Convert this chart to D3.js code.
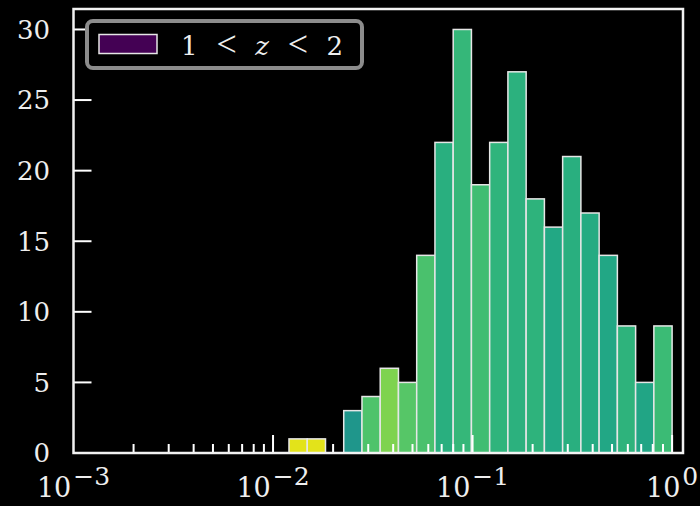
<!DOCTYPE html>
<html>
<head>
<meta charset="utf-8">
<script src="https://d3js.org/d3.v7.min.js"></script>
<style>
  body { margin: 0; background: #000; }
  svg { display: block; background: #000; }
  text { font-family: 'DejaVu Serif', serif; fill: #eee; }
</style>
</head>
<body>
<svg width="700" height="506"></svg>
<script>
// histogram bin edges (log spaced)
const binEdges = [0.01202, 0.01484, 0.01832, 0.02261, 0.02791, 0.03445, 0.04252, 0.05248,
  0.06478, 0.07996, 0.09869, 0.12182, 0.15036, 0.18559, 0.22909, 0.28277, 0.34903,
  0.43081, 0.53176, 0.65637, 0.81018, 1.0];
// counts per bin
const counts = [1, 1, 0, 3, 4, 6, 5, 14, 22, 30, 19, 22, 27, 18, 16, 21, 17, 14, 9, 5, 9];
// bar face colours (viridis values)
const barColors = ["#e3e31a", "#e3e31a", "#000", "#1f968b", "#4ec36b", "#7ed34f", "#56c667",
  "#4ac16d", "#29af7f", "#35b779", "#40bd72", "#2fb47c", "#2cb17e", "#2eb37c", "#22a884",
  "#29af7f", "#25ab82", "#22a785", "#2eb37c", "#21a585", "#3bbb75"];
const yTicks = [0, 5, 10, 15, 20, 25, 30];
const xMajor = [-3, -2, -1, 0];
const legendLabel = "1 < z < 2";

const svg = d3.select("svg");
const margin = {top: 9, right: 17, bottom: 53, left: 73.5};
const W = 700, H = 506;

const x = d3.scaleLog().domain([1e-3, 1.134]).range([margin.left, W - margin.right]);
const y = d3.scaleLinear().domain([0, 31.45]).range([H - margin.bottom, margin.top]);

// bars
const bins = counts.map((c, i) => ({x0: binEdges[i], x1: binEdges[i + 1], n: c, col: barColors[i]}));
svg.append("g").selectAll("rect")
  .data(bins.filter(d => d.n > 0))
  .join("rect")
  .attr("x", d => x(d.x0))
  .attr("width", d => x(d.x1) - x(d.x0))
  .attr("y", d => y(d.n))
  .attr("height", d => y(0) - y(d.n))
  .attr("fill", d => d.col)
  .attr("stroke", "#e6e6e6")
  .attr("stroke-width", 1.5);

// x ticks (inward), minor and major
const minor = [];
[-3, -2, -1].forEach(k => { for (let m = 2; m <= 9; m++) minor.push(m * Math.pow(10, k)); });
const gx = svg.append("g");
gx.selectAll("line.minor").data(minor).join("line")
  .attr("x1", d => x(d)).attr("x2", d => x(d))
  .attr("y1", y(0)).attr("y2", y(0) - 9)
  .attr("stroke", "#fff").attr("stroke-width", 2);
gx.selectAll("line.major").data(xMajor.slice(1)).join("line")
  .attr("x1", d => x(Math.pow(10, d))).attr("x2", d => x(Math.pow(10, d)))
  .attr("y1", y(0)).attr("y2", y(0) - 18)
  .attr("stroke", "#fff").attr("stroke-width", 2);

const xl = gx.selectAll("text").data(xMajor).join("text")
  .attr("x", d => x(Math.pow(10, d)))
  .attr("y", 497)
  .attr("text-anchor", "middle")
  .style("font-size", "27px");
xl.append("tspan").text("10");
xl.append("tspan").attr("dx", 2).attr("dy", -12).style("font-size", "25px")
  .text(d => d < 0 ? "\u2212" + (-d) : d);

// y ticks
const gy = svg.append("g");
gy.selectAll("line").data(yTicks).join("line")
  .attr("x1", margin.left).attr("x2", margin.left + 18)
  .attr("y1", d => y(d)).attr("y2", d => y(d))
  .attr("stroke", "#fff").attr("stroke-width", 2);
gy.selectAll("text").data(yTicks).join("text")
  .attr("x", 50).attr("y", d => y(d))
  .attr("dy", "0.36em")
  .attr("text-anchor", "end")
  .style("font-size", "26px")
  .text(d => d);

// frame
svg.append("rect")
  .attr("x", margin.left).attr("y", margin.top)
  .attr("width", W - margin.right - margin.left)
  .attr("height", H - margin.bottom - margin.top)
  .attr("fill", "none").attr("stroke", "#f2f2f2").attr("stroke-width", 2.5);

// legend
const lg = svg.append("g");
lg.append("rect")
  .attr("x", 87).attr("y", 21).attr("width", 275).attr("height", 47)
  .attr("rx", 6).attr("fill", "#000")
  .attr("stroke", "#8c8c8c").attr("stroke-width", 4);
lg.append("rect")
  .attr("x", 99).attr("y", 34.5).attr("width", 58).attr("height", 19)
  .attr("fill", "#440154").attr("stroke", "#e6e6e6").attr("stroke-width", 1.5);
const parts = legendLabel.split(" ");
const lt = lg.append("text")
  .attr("x", 181).attr("y", 55)
  .attr("textLength", 162).attr("lengthAdjust", "spacing")
  .style("font-size", "26px");
parts.forEach((p, i) => {
  const isRel = p === "<";
  lt.append("tspan")
    .style("font-style", p === "z" ? "italic" : "normal")
    .style("font-family", isRel ? "'Liberation Serif', serif" : null)
    .style("font-size", isRel ? "36px" : "26px")
    .attr("dy", isRel ? 1 : (i ? -1 : 0))
    .text((i ? " " : "") + p);
});
</script>
</body>
</html>
